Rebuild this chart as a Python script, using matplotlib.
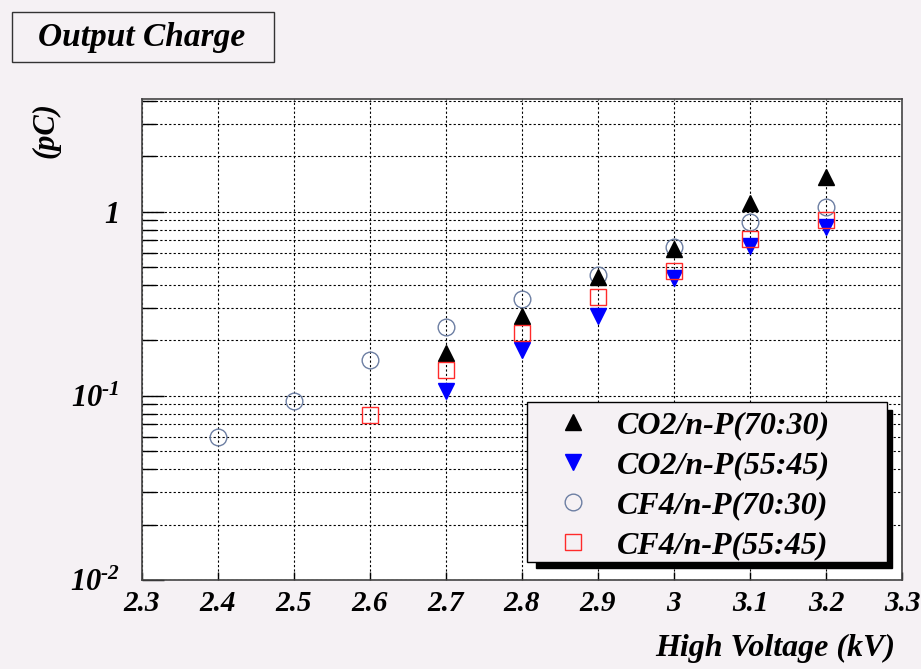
import matplotlib.pyplot as plt
from matplotlib.patches import Rectangle
from matplotlib.ticker import LogLocator, NullFormatter, FixedLocator

plt.rcParams['font.family'] = ['Liberation Serif', 'DejaVu Serif']
plt.rcParams['mathtext.fontset'] = 'custom'
plt.rcParams['mathtext.rm'] = 'Liberation Serif:bold:italic'
plt.rcParams['mathtext.it'] = 'Liberation Serif:bold:italic'
plt.rcParams['mathtext.bf'] = 'Liberation Serif:bold:italic'

# data (kV, pC)
co2_7030_hv = [2.7, 2.8, 2.9, 3.0, 3.1, 3.2]
co2_7030 = [0.171, 0.27, 0.445, 0.63, 1.12, 1.545]
co2_5545_hv = [2.7, 2.8, 2.9, 3.0, 3.1, 3.2]
co2_5545 = [0.106, 0.178, 0.27, 0.436, 0.648, 0.832]
cf4_7030_hv = [2.4, 2.5, 2.6, 2.7, 2.8, 2.9, 3.0, 3.1, 3.2]
cf4_7030 = [0.0598, 0.094, 0.157, 0.236, 0.337, 0.455, 0.643, 0.875, 1.06]
cf4_5545_hv = [2.6, 2.7, 2.8, 2.9, 3.0, 3.1, 3.2]
cf4_5545 = [0.079, 0.138, 0.219, 0.345, 0.478, 0.711, 0.905]

labels = ['CO2/n-P(70:30)', 'CO2/n-P(55:45)', 'CF4/n-P(70:30)', 'CF4/n-P(55:45)']
x_ticks = [2.3, 2.4, 2.5, 2.6, 2.7, 2.8, 2.9, 3.0, 3.1, 3.2, 3.3]
x_tick_labels = ['2.3', '2.4', '2.5', '2.6', '2.7', '2.8', '2.9', '3', '3.1', '3.2', '3.3']
y_ticks = [0.01, 0.1, 1]
# hyphen (U+2010) so the exponent gets a short dash like the original
y_tick_labels = ['$10^{\u2010 2}$', '$10^{\u2010 1}$', '1']

bg = '#f5f1f4'
W, H = 921, 669


def fx(px):
    return px / W


def fy(py):
    return 1 - py / H


fig = plt.figure(figsize=(W / 100, H / 100), dpi=100, facecolor=bg)
ax = fig.add_axes([fx(142), fy(580), fx(760), 481 / H])
ax.set_facecolor('white')

font = dict(family='Liberation Serif', weight='bold', style='italic')

ax.plot(cf4_7030_hv, cf4_7030, 'o', ms=12, mfc='none', mec='#6d7fa3', mew=1.0, label=labels[2], zorder=3)
ax.plot(co2_7030_hv, co2_7030, '^', ms=12, color='black', label=labels[0], zorder=4)
ax.plot(co2_5545_hv, co2_5545, 'v', ms=12, color='#0000ff', label=labels[1], zorder=5)
ax.plot(cf4_5545_hv, cf4_5545, 's', ms=12, mfc='none', mec='#ff2a2a', mew=1.0, label=labels[3], zorder=6)

ax.set_yscale('log')
ax.set_xlim(2.3, 3.3)
ax.set_ylim(0.01, 4.1)

ax.xaxis.set_major_locator(FixedLocator(x_ticks))
ax.set_xticklabels(x_tick_labels, fontsize=21, **font)
ax.set_yticks(y_ticks)
ax.set_yticklabels(y_tick_labels, fontsize=22, **font)
ax.yaxis.set_minor_locator(LogLocator(base=10, subs=range(2, 10)))
ax.yaxis.set_minor_formatter(NullFormatter())

ax.tick_params(axis='x', which='major', direction='in', length=6, width=1, pad=7, top=False)
ax.tick_params(axis='y', which='major', direction='in', length=16, width=1, pad=16, right=False)
ax.tick_params(axis='y', which='minor', direction='in', length=10, width=1, right=False)

ax.grid(axis='x', which='major', color='black', linestyle=(0, (2, 2)), linewidth=0.8)
ax.grid(axis='y', which='both', color='black', linestyle=(0, (2, 2)), linewidth=0.8)
ax.set_axisbelow(True)
for s in ax.spines.values():
    s.set_color('#444444')
    s.set_linewidth(1.2)

# title box
fig.patches.append(Rectangle((fx(12), fy(62)), fx(262), 50 / H, transform=fig.transFigure,
                             facecolor=bg, edgecolor='#333333', linewidth=1.0, zorder=2))
fig.text(fx(142), fy(46), 'Output Charge', ha='center', va='baseline', fontsize=24, **font)

# axis titles
fig.text(fx(895), fy(656), 'High Voltage (kV)', ha='right', va='baseline', fontsize=23, **font)
fig.text(fx(46), fy(130), '(pC)', ha='center', va='center', rotation=90, fontsize=22, **font)

# legend box with shadow
fig.patches.append(Rectangle((fx(536), fy(568)), fx(356), 158 / H, transform=fig.transFigure,
                             facecolor='black', edgecolor='black', zorder=3))
fig.patches.append(Rectangle((fx(527), fy(562)), fx(360), 160 / H, transform=fig.transFigure,
                             facecolor=bg, edgecolor='black', linewidth=1.0, zorder=3.5))
handles, labs = ax.get_legend_handles_labels()
order = [labs.index(l) for l in labels]
fig.legend([handles[i] for i in order], labels, loc='upper left',
           bbox_to_anchor=(fx(527), fy(406)), bbox_transform=fig.transFigure,
           frameon=False, prop=dict(size=23, **font), borderpad=0.15,
           handlelength=2.6, handletextpad=0.05, labelspacing=0.33, borderaxespad=0)

fig.savefig('out.png', dpi=100, facecolor=bg)
